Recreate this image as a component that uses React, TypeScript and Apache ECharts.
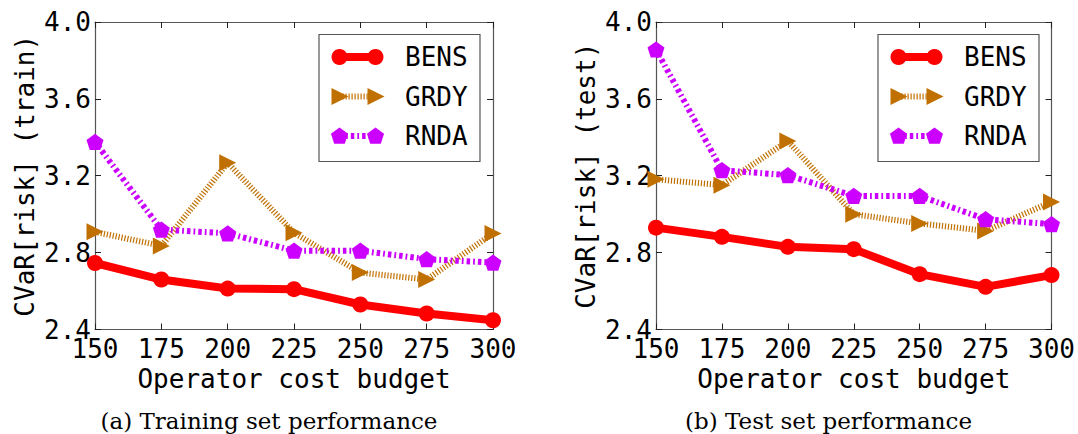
import React, { useEffect, useRef } from "react";
import * as echarts from "echarts";

// Operator cost budgets (x axis)
const budgets = [150, 175, 200, 225, 250, 275, 300];

// CVaR[risk] on the training set
const trainBens = [2.746, 2.66, 2.613, 2.61, 2.53, 2.483, 2.448];
const trainGrdy = [2.908, 2.835, 3.267, 2.903, 2.696, 2.66, 2.9];
const trainRnda = [3.376, 2.92, 2.9, 2.81, 2.81, 2.766, 2.748];

// CVaR[risk] on the test set
const testBens = [2.93, 2.882, 2.83, 2.818, 2.688, 2.622, 2.683];
const testGrdy = [3.182, 3.151, 3.381, 3.0, 2.952, 2.913, 3.064];
const testRnda = [3.857, 3.229, 3.203, 3.095, 3.095, 2.974, 2.948];

const methods = ["BENS", "GRDY", "RNDA"];
const yTicks = [2.4, 2.8, 3.2, 3.6, 4.0];

const MONO = "DejaVu Sans Mono";
const SERIF = "DejaVu Serif";

const RED = "#ff0000";
const ORANGE = "#c07000";
const VIOLET = "#cc00ff";

const TRI = "path://M0,0 L16,8 L0,16 Z";
const PENTA =
  "path://M0,-1 L0.951,-0.309 L0.588,0.809 L-0.588,0.809 L-0.951,-0.309 Z";

const pairs = (ys: number[]) => budgets.map((b, i) => [b, ys[i]]);

const styles = [
  { color: RED, symbol: "circle", size: 16, width: 8, dash: "solid" as any },
  { color: ORANGE, symbol: TRI, size: 17, width: 6, dash: [1.2, 1.8] },
  { color: VIOLET, symbol: PENTA, size: 17, width: 6, dash: [3.5, 3, 1.8, 3] },
];

function makeSeries(grid: number, sets: number[][]) {
  return sets.map((ys, k) => {
    const s = styles[k];
    return {
      name: methods[k],
      type: "line",
      xAxisIndex: grid * 2,
      yAxisIndex: grid * 2,
      data: pairs(ys),
      symbol: s.symbol,
      symbolSize: s.size,
      symbolKeepAspect: true,
      showAllSymbol: true,
      clip: false,
      z: 2 + k,
      lineStyle: { color: s.color, width: s.width, type: s.dash, cap: "butt" },
      itemStyle: { color: s.color, opacity: 1 },
    };
  });
}

function makeAxes(grid: number, yName: string) {
  const frame = { show: true, onZero: false, lineStyle: { color: "#555", width: 1.2 } };
  const tick = { show: true, inside: true, length: 6, lineStyle: { color: "#222", width: 1 } };
  const x = {
    gridIndex: grid,
    type: "value",
    min: 150,
    max: 300,
    interval: 25,
    splitLine: { show: false },
    axisLine: frame,
    axisTick: tick,
  };
  const y = {
    gridIndex: grid,
    type: "value",
    min: yTicks[0],
    max: yTicks[yTicks.length - 1],
    interval: 0.4,
    splitLine: { show: false },
    axisLine: frame,
    axisTick: tick,
  };
  return {
    xAxis: [
      {
        ...x,
        position: "bottom",
        name: "Operator cost budget",
        nameLocation: "middle",
        nameGap: 35,
        nameTextStyle: { fontFamily: MONO, fontSize: 26, color: "#000" },
        axisLabel: {
          fontFamily: MONO,
          fontSize: 26,
          color: "#000",
          margin: 6,
          formatter: (v: number) => String(v),
        },
      },
      { ...x, position: "top", axisLabel: { show: false } },
    ],
    yAxis: [
      {
        ...y,
        position: "left",
        name: yName,
        nameLocation: "middle",
        nameGap: 57,
        nameTextStyle: { fontFamily: MONO, fontSize: 26, color: "#000" },
        axisLabel: {
          fontFamily: MONO,
          fontSize: 26,
          color: "#000",
          margin: 4,
          formatter: (v: number) => v.toFixed(1),
        },
      },
      { ...y, position: "right", axisLabel: { show: false } },
    ],
  };
}

// Legend box with a marker at each end of the line sample
function legendBox(left: number, top: number) {
  const rows = [22.5, 62, 101.5];
  const m1 = left + 20.5;
  const m2 = left + 56.5;
  const els: any[] = [
    {
      type: "rect",
      shape: { x: left, y: top, width: 161, height: 127 },
      style: { fill: "#fff", stroke: "#555", lineWidth: 1.2 },
      z: 10,
    },
  ];
  rows.forEach((dy, k) => {
    const s = styles[k];
    const cy = top + dy;
    els.push({
      type: "line",
      shape: { x1: m1, y1: cy, x2: m2, y2: cy },
      style: {
        stroke: s.color,
        lineWidth: s.width,
        lineDash: Array.isArray(s.dash) ? s.dash : null,
      },
      z: 11,
    });
    [m1, m2].forEach((cx) => {
      if (k === 0) {
        els.push({ type: "circle", shape: { cx, cy, r: 8 }, style: { fill: s.color }, z: 12 });
      } else if (k === 1) {
        els.push({
          type: "polygon",
          shape: { points: [[cx - 8, cy - 8.5], [cx + 9, cy], [cx - 8, cy + 8.5]] },
          style: { fill: s.color },
          z: 12,
        });
      } else {
        const r = 9;
        const pts = [0, 1, 2, 3, 4].map((i) => {
          const a = (-90 + 72 * i) * (Math.PI / 180);
          return [cx + r * Math.cos(a), cy + 0.5 + r * Math.sin(a)];
        });
        els.push({ type: "polygon", shape: { points: pts }, style: { fill: s.color }, z: 12 });
      }
    });
    els.push({
      type: "text",
      x: left + 86,
      y: cy,
      style: {
        text: methods[k],
        font: `26px "${MONO}"`,
        fill: "#000",
        verticalAlign: "middle",
        align: "left",
      },
      z: 12,
    });
  });
  return els;
}

function caption(cx: number, text: string) {
  return {
    type: "text",
    x: cx,
    y: 421,
    style: {
      text,
      font: `23px "${SERIF}"`,
      fill: "#000",
      align: "center",
      verticalAlign: "middle",
    },
  };
}

export default function App() {
  const ref = useRef<HTMLDivElement>(null);

  useEffect(() => {
    document.body.style.margin = "0";
    if (!ref.current) return;
    const chart = echarts.init(ref.current, undefined, { renderer: "svg" });
    const a = makeAxes(0, "CVaR[risk] (train)");
    const b = makeAxes(1, "CVaR[risk] (test)");
    chart.setOption({
      animation: false,
      backgroundColor: "#fff",
      grid: [
        { left: 95, top: 22, width: 398, height: 307.5, containLabel: false },
        { left: 656, top: 22, width: 397, height: 307.5, containLabel: false },
      ],
      xAxis: [...a.xAxis, ...b.xAxis],
      yAxis: [...a.yAxis, ...b.yAxis],
      series: [
        ...makeSeries(0, [trainBens, trainGrdy, trainRnda]),
        ...makeSeries(1, [testBens, testGrdy, testRnda]),
      ],
      graphic: [
        ...legendBox(319, 34.5),
        ...legendBox(878, 34.5),
        caption(269, "(a) Training set performance"),
        caption(828.5, "(b) Test set performance"),
      ],
    });
    return () => chart.dispose();
  }, []);

  return <div ref={ref} style={{ width: 1078, height: 434 }} />;
}
